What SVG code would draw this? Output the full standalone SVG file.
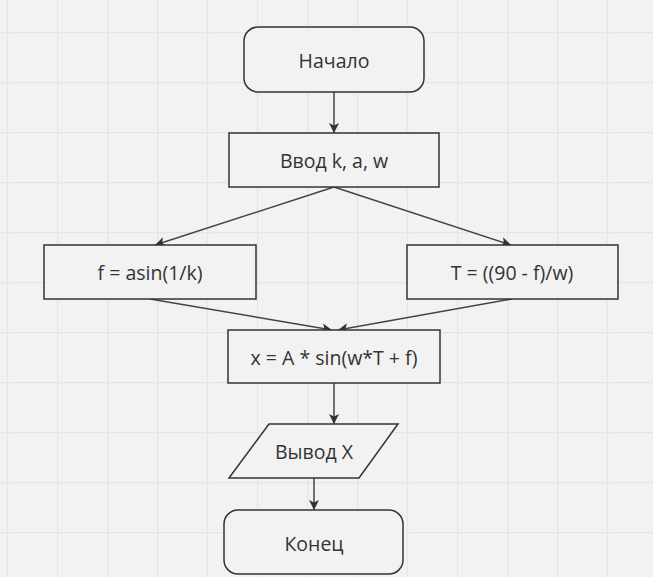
<svg xmlns="http://www.w3.org/2000/svg" width="653" height="577" viewBox="0 0 653 577">
<defs>
<pattern id="grid" x="7" y="32" width="50" height="50" patternUnits="userSpaceOnUse">
<path d="M0.5 0V50M0 0.5H50" stroke="#e5e5e5" stroke-width="1.5" fill="none"/>
</pattern>
<marker id="arr" viewBox="0 0 10 10" refX="10" refY="5" markerWidth="10" markerHeight="10" markerUnits="userSpaceOnUse" orient="auto">
<path d="M0 0L10 5L0 10L2.5 5Z" fill="#333"/>
</marker>
<style>
.n{fill:#f2f2f2;stroke:#333;stroke-width:1.5}
.t{font-family:"Open Sans","Noto Sans",sans-serif;font-size:19.5px;fill:#333;text-anchor:middle;dominant-baseline:central}
.c{stroke:#444;stroke-width:1.5;fill:none;marker-end:url(#arr)}
</style>
</defs>
<rect width="653" height="577" fill="#f2f2f2"/>
<rect width="653" height="577" fill="url(#grid)"/>
<g id="connectors">
<path class="c" d="M334 92V133"/>
<path class="c" d="M334 187L155 245"/>
<path class="c" d="M334 187L511 245"/>
<path class="c" d="M150 299L332 330"/>
<path class="c" d="M512 299L338 330"/>
<path class="c" d="M334 383V424"/>
<path class="c" d="M314 478V510"/>
</g>
<g id="start"><rect class="n" x="244" y="27" width="180" height="65" rx="14"/><text class="t" x="334" y="60">Начало</text></g>
<g id="input"><rect class="n" x="229" y="133" width="210" height="54"/><text class="t" x="334" y="160">Ввод k, a, w</text></g>
<g id="calc-f"><rect class="n" x="44" y="245" width="212" height="54"/><text class="t" x="150" y="272">f = asin(1/k)</text></g>
<g id="calc-t"><rect class="n" x="407" y="245" width="211" height="54"/><text class="t" x="512" y="272">T = ((90 - f)/w)</text></g>
<g id="calc-x"><rect class="n" x="228" y="330" width="212" height="53"/><text class="t" x="334" y="357">x = A * sin(w*T + f)</text></g>
<g id="output"><path class="n" d="M269 424H398L359 478H229Z"/><text class="t" x="314" y="451">Вывод X</text></g>
<g id="end"><rect class="n" x="224" y="510" width="179" height="64" rx="14"/><text class="t" x="314" y="543">Конец</text></g>
</svg>
